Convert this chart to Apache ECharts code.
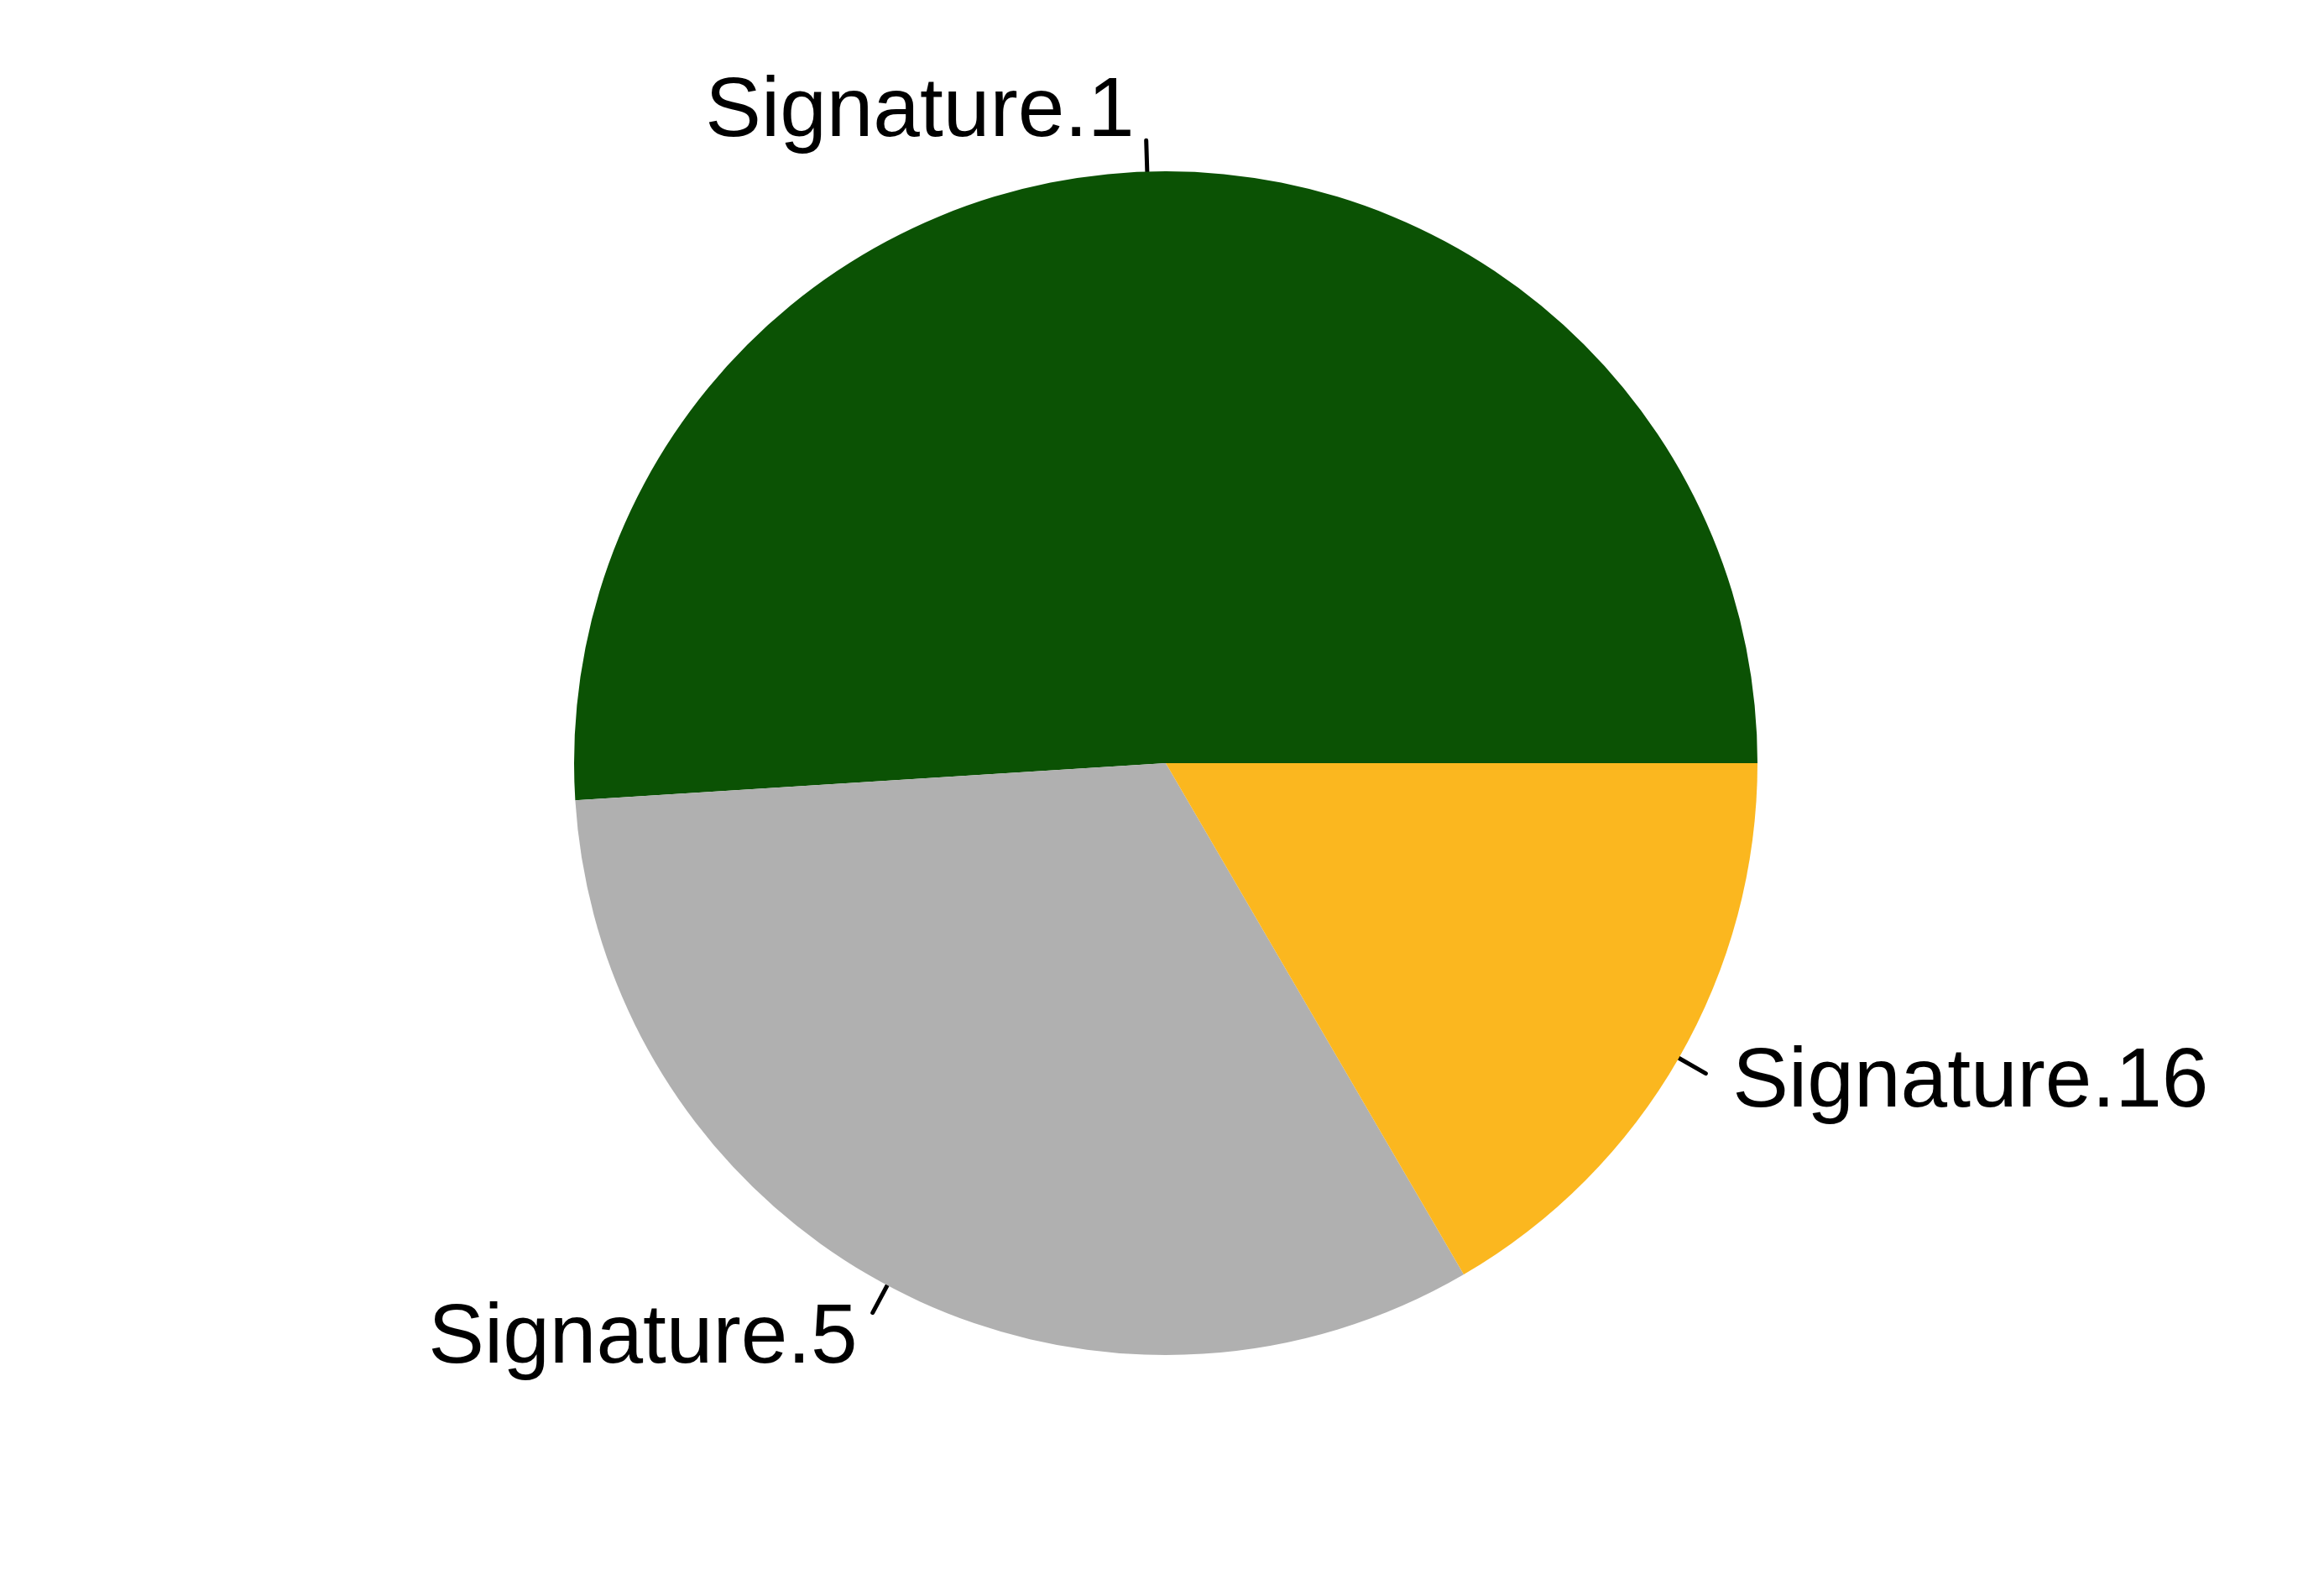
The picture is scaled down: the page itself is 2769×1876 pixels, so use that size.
<!DOCTYPE html>
<html>
<head>
<meta charset="utf-8">
<script src="https://cdn.jsdelivr.net/npm/echarts@6/dist/echarts.min.js"></script>
<style>html,body{margin:0;padding:0;background:#fff;}#chart{width:2769px;height:1876px;}</style>
</head>
<body>
<div id="chart"></div>
<script>
var categories = ['Signature.1', 'Signature.5', 'Signature.16'];
var values = [0.510, 0.324, 0.166];
var colors = ['#0B5204', '#B0B0B0', '#FBB71F'];

// label nudges (px) to mimic R's label placement at 1.1 * radius
var labelShift = [[6, -33], [2, 32], [12, 12]];

var chart = echarts.init(document.getElementById('chart'), null, {renderer: 'canvas'});
chart.setOption({
  backgroundColor: '#ffffff',
  animation: false,
  series: [{
    type: 'pie',
    center: [1389, 909],
    radius: [0, 705],
    startAngle: 0,
    clockwise: false,
    avoidLabelOverlap: false,
    minShowLabelAngle: 0,
    data: categories.map(function (c, i) {
      return {name: c, value: values[i], itemStyle: {color: colors[i]}};
    }),
    itemStyle: {borderWidth: 0},
    label: {
      show: true,
      position: 'outside',
      formatter: '{b}',
      color: '#000000',
      fontFamily: 'Liberation Sans, Arial, sans-serif',
      fontSize: 100,
      distanceToLabelLine: 20
    },
    labelLine: {
      show: true,
      length: 37,
      length2: 0,
      smooth: false,
      lineStyle: {color: '#000000', width: 5, cap: 'round'}
    },
    labelLayout: function (params) {
      var s = labelShift[params.dataIndex];
      return {dx: s[0], dy: s[1], labelLinePoints: params.labelLinePoints};
    },
    emphasis: {disabled: true}
  }]
});
</script>
</body>
</html>
